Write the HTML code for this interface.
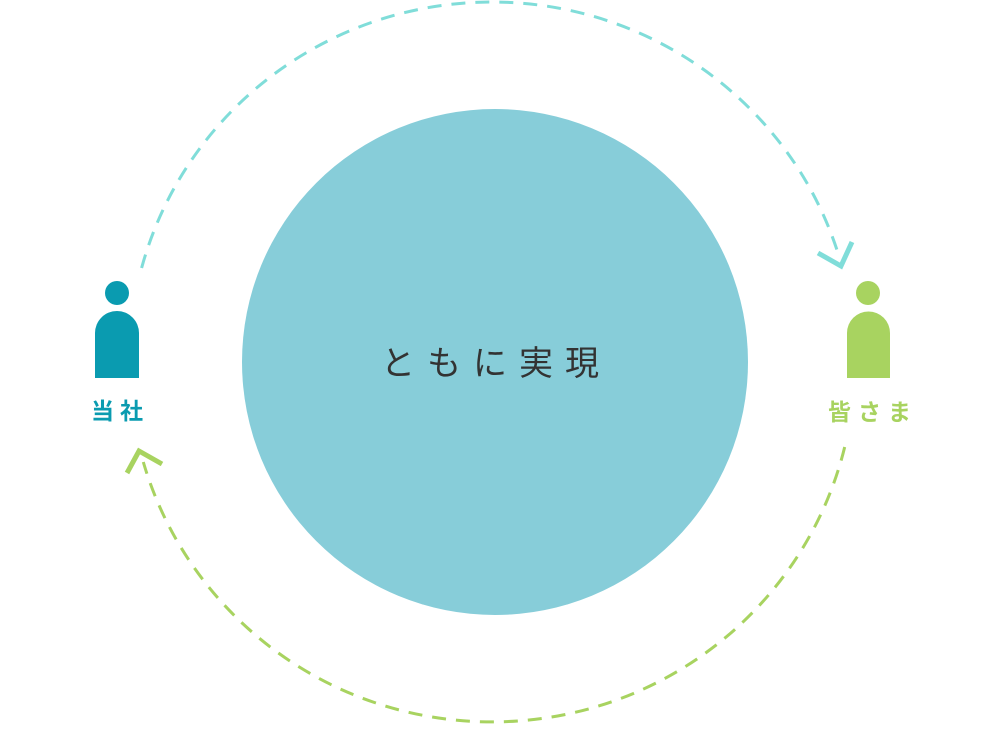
<!DOCTYPE html>
<html><head><meta charset="utf-8"><style>
html,body{margin:0;padding:0;background:#fff;}
body{width:1000px;height:724px;overflow:hidden;}
</style></head><body>
<svg width="1000" height="724" viewBox="0 0 1000 724" xmlns="http://www.w3.org/2000/svg">
<circle cx="495" cy="362" r="253" fill="#87cdd9"/>
<path d="M141.6 268 A363 360 0 0 1 838.6 255" fill="none" stroke="#80ddd9" stroke-width="3" stroke-dasharray="14 10"/>
<polyline points="818,253 841,266 852,242" fill="none" stroke="#80ddd9" stroke-width="5"/>
<path d="M844.7 447 A363 360 0 0 1 143.3 462" fill="none" stroke="#a8d360" stroke-width="3" stroke-dasharray="14 10"/>
<polyline points="127,473 139,451 162,464" fill="none" stroke="#a8d360" stroke-width="5"/>
<circle cx="117" cy="293" r="12" fill="#0a9bb0"/>
<path d="M95 378 V333 A22 22 0 0 1 139 333 V378 Z" fill="#0a9bb0"/>
<circle cx="868" cy="293" r="12" fill="#a8d360"/>
<path d="M847 378 V333 A21.5 21.5 0 0 1 890 333 V378 Z" fill="#a8d360"/>
<text x="496" y="375" text-anchor="middle" font-family="'Liberation Sans','Noto Sans CJK JP',sans-serif" font-size="34" letter-spacing="12" fill="#333">ともに実現</text>
<text x="120" y="419" text-anchor="middle" font-family="'Liberation Sans','Noto Sans CJK JP',sans-serif" font-size="23" font-weight="bold" letter-spacing="6" fill="#0a9bb0">当社</text>
<text x="873" y="420" text-anchor="middle" font-family="'Liberation Sans','Noto Sans CJK JP',sans-serif" font-size="23" font-weight="bold" letter-spacing="7" fill="#a8d360">皆さま</text>
</svg>
</body></html>
